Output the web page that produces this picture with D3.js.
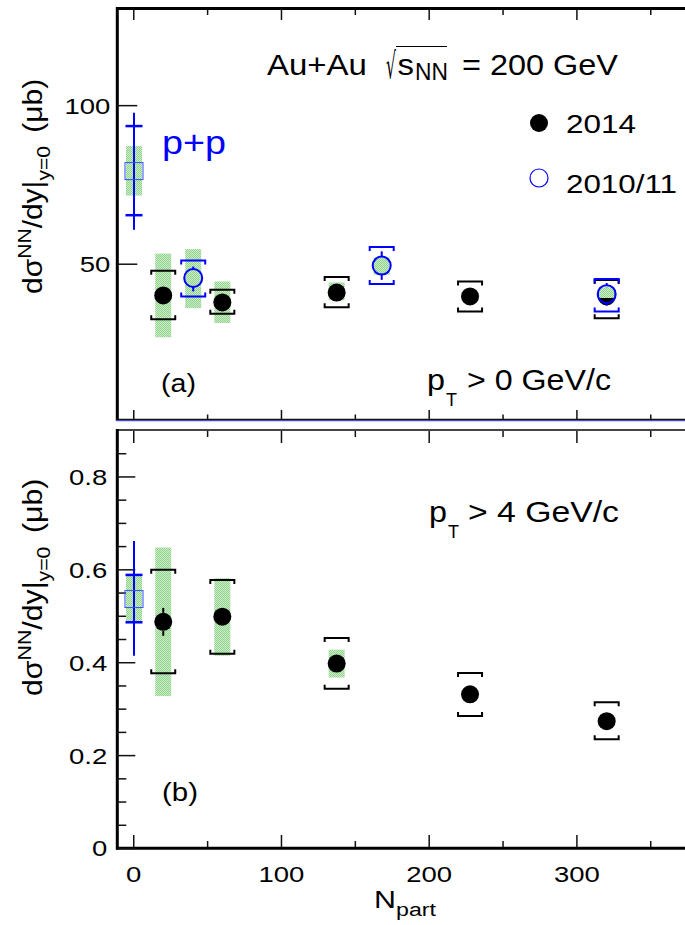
<!DOCTYPE html>
<html><head><meta charset="utf-8">
<script src="https://cdn.jsdelivr.net/npm/d3@7"></script>
<style>body{margin:0;background:#fff}text{font-family:"Liberation Sans",Arial,Helvetica,sans-serif}</style>
</head><body><svg id="c" width="685" height="925"></svg>
<script>
// ---------------- data ----------------
const npart2014 = [20.3, 60.3, 137.7, 228, 320.5];
const npart2010 = [40.6, 168.2, 320.5];
const npartPP = [0.5];

// panel (a): pT > 0 GeV/c  (μb)
const a2014Val  = [40.0, 37.8, 40.9, 39.7, 39.7];
const a2014Stat = [[39.1,40.9],[36.9,38.7],[40.0,41.8],[38.9,40.5],[38.9,40.5]];
const a2014Sys  = [[32.5,47.8],[34.2,41.8],[36.3,45.8],[34.9,44.4],[32.8,44.9]];
const a2014Box  = [[26.8,53.2],[31.3,44.4],[38.5,44.1],null,null];

const a2010Val  = [45.5, 49.4, 40.4];
const a2010Stat = [[41.3,49.1],[44.9,53.9],[36.8,43.9]];
const a2010Sys  = [[39.7,51.0],[43.6,55.3],[34.9,45.2]];
const a2010Box  = [[36.0,54.6],[46.5,52.0],[39.2,42.5]];

const aPPVal  = [79.2];
const aPPStat = [[60.7,97.6]];
const aPPSys  = [[65.3,93.4]];
const aPPBox  = [[71.5,87.1]];

// panel (b): pT > 4 GeV/c  (μb)
const b2014Val  = [0.487, 0.498, 0.397, 0.331, 0.273];
const b2014Stat = [[0.457,0.517],[0.484,0.512],[0.386,0.408],[0.321,0.341],[0.264,0.282]];
const b2014Sys  = [[0.376,0.599],[0.418,0.577],[0.343,0.452],[0.284,0.377],[0.234,0.314]];
const b2014Box  = [[0.327,0.647],[0.414,0.581],[0.367,0.427],null,null];

const bPPVal  = [0.536];
const bPPStat = [[0.414,0.661]];
const bPPSys  = [[0.486,0.588]];
const bPPBox  = [[0.486,0.588]];

// axes / ticks
const xDomain = [-10.8, 376.9];
const xMajor = [0, 100, 200, 300];
const xMinor = [50, 150, 250, 350];
const yTopDomain = [0.5, 130];
const yTopMajor = [50, 100];
const yBotDomain = [0, 0.9];
const yBotMajor = [0, 0.2, 0.4, 0.6, 0.8];
const yBotMinor = [0.05,0.1,0.15,0.25,0.3,0.35,0.45,0.5,0.55,0.65,0.7,0.75,0.85];

// ---------------- drawing ----------------
const svg = d3.select("#c");
const BLUE = "#0000ff";
const defs = svg.append("defs");
const pat = defs.append("pattern").attr("id","green").attr("width",2).attr("height",2).attr("patternUnits","userSpaceOnUse");
pat.append("rect").attr("width",2).attr("height",2).attr("fill","#cdeec9");
pat.append("rect").attr("width",1).attr("height",1).attr("fill","#8fd28b");
pat.append("rect").attr("x",1).attr("y",1).attr("width",1).attr("height",1).attr("fill","#8fd28b");

const x = d3.scaleLinear().domain(xDomain).range([117.3, 690]);
const yTop = d3.scaleLinear().domain(yTopDomain).range([420.7, 10]);
const yBot = d3.scaleLinear().domain(yBotDomain).range([848, 430]);

const TICK_SX = 1.25, TICK_FS = 22;
function styleTicks(g){
  g.select(".domain").remove();
  g.selectAll(".tick line").attr("stroke","#111").attr("stroke-width",1.5);
}
function axisX(yPos, size, labels){
  const gM = svg.append("g").attr("transform",`translate(0,${yPos})`)
    .call(d3.axisBottom(x).tickValues(xMajor).tickSize(size).tickFormat(labels ? d3.format("d") : ""));
  styleTicks(gM);
  if (labels){
    gM.selectAll(".tick text").attr("font-size",TICK_FS).attr("fill","#000").attr("font-family",null)
      .attr("y",0).attr("dy",0).attr("transform",`translate(0,35) scale(${TICK_SX},1)`);
  }
  const gm = svg.append("g").attr("transform",`translate(0,${yPos})`)
    .call(d3.axisBottom(x).tickValues(xMinor).tickSize(size/2).tickFormat(""));
  styleTicks(gm);
}
function axisY(scale, major, minor, size, pad){
  const g = svg.append("g").attr("transform","translate(117.3,0)")
    .call(d3.axisLeft(scale).tickValues(major).tickSize(-size).tickFormat(d3.format("~g")));
  styleTicks(g);
  g.selectAll(".tick text").attr("font-size",TICK_FS).attr("fill","#000").attr("font-family",null)
    .attr("x",0).attr("dy","0.36em").attr("transform",`translate(${-pad},0) scale(${TICK_SX},1)`);
  if (minor){
    const gm = svg.append("g").attr("transform","translate(117.3,0)")
      .call(d3.axisLeft(scale).tickValues(minor).tickSize(-size/2).tickFormat(""));
    styleTicks(gm);
  }
}

// frames
function line(x1,y1,x2,y2,c,w){ svg.append("line").attr("x1",x1).attr("y1",y1).attr("x2",x2).attr("y2",y2).attr("stroke",c).attr("stroke-width",w); }
// top panel
line(117.3, 8.5, 690, 8.5, "#000", 3);
line(117.3, 7, 117.3, 420.7, "#000", 3);
line(116, 419.3, 690, 419.3, "#111", 1.2);
line(116, 420.6, 690, 420.6, "#4a4ad0", 1.2);
// bottom panel
line(116, 430, 690, 430, "#444", 2.2);
line(117.3, 429, 117.3, 849.5, "#000", 3);
line(116, 848.3, 690, 848.3, "#000", 3);

axisX(10, 10, false);
axisX(419, -9, false);
axisX(431, 12, false);
axisX(847, -12, true);
axisY(yTop, yTopMajor, null, 20, 7);
axisY(yBot, yBotMajor, yBotMinor, 18, 10);

// ---- series helpers ----
const R = 9, BW = 8, BR = 12, BT = 4;
function boxes(y, xs, box){
  svg.append("g").selectAll("rect").data(xs.map((n,i)=>({n,b:box[i]})).filter(d=>d.b)).join("rect")
    .attr("x",d=>x(d.n)-BW).attr("width",2*BW)
    .attr("y",d=>y(d.b[1])).attr("height",d=>y(d.b[0])-y(d.b[1]))
    .attr("fill","url(#green)");
}
function brackets(y, xs, sys, color){
  const g = svg.append("g").attr("fill","none").attr("stroke",color).attr("stroke-width",2);
  g.selectAll("path").data(xs.map((n,i)=>({n,s:sys[i]}))).join("path")
    .attr("d",d=>{
      const cx=x(d.n), t=y(d.s[1]), b=y(d.s[0]);
      return `M${cx-BR},${t+BT}V${t}H${cx+BR}V${t+BT}M${cx-BR},${b-BT}V${b}H${cx+BR}V${b-BT}`;
    });
}
function statBars(y, xs, vals, stat, color){
  const g = svg.append("g").attr("stroke",color).attr("stroke-width",2);
  xs.forEach((n,i)=>{
    const cx=x(n), cy=y(vals[i]), t=y(stat[i][1]), b=y(stat[i][0]);
    if (t < cy-R) g.append("line").attr("x1",cx).attr("x2",cx).attr("y1",t).attr("y2",cy-R);
    if (b > cy+R) g.append("line").attr("x1",cx).attr("x2",cx).attr("y1",cy+R).attr("y2",b);
  });
}
function circles(y, xs, vals, filled){
  svg.append("g").selectAll("circle").data(xs.map((n,i)=>({n,v:vals[i]}))).join("circle")
    .attr("cx",d=>x(d.n)).attr("cy",d=>y(d.v)).attr("r",R)
    .attr("fill",filled?"#000":"none").attr("stroke",filled?"none":BLUE).attr("stroke-width",2);
}
function pp(y, xs, vals, stat, sys, box){
  boxes(y, xs, box);
  const g = svg.append("g").attr("stroke",BLUE);
  xs.forEach((n,i)=>{
    const cx=x(n);
    g.append("line").attr("x1",cx).attr("x2",cx).attr("y1",y(stat[i][1])).attr("y2",y(stat[i][0])).attr("stroke-width",2);
    sys[i].forEach(s=>g.append("line").attr("x1",cx-8.5).attr("x2",cx+8.5).attr("y1",y(s)).attr("y2",y(s)).attr("stroke-width",2.5));
    g.append("rect").attr("x",cx-9).attr("y",y(vals[i])-8.5).attr("width",18).attr("height",17)
      .attr("fill","none").attr("stroke","#3050ff").attr("stroke-width",1);
  });
}

// panel (a)
pp(yTop, npartPP, aPPVal, aPPStat, aPPSys, aPPBox);
boxes(yTop, npart2014, a2014Box);
brackets(yTop, npart2014, a2014Sys, "#000");
circles(yTop, npart2014, a2014Val, true);
statBars(yTop, npart2014, a2014Val, a2014Stat, "#000");
boxes(yTop, npart2010, a2010Box);
brackets(yTop, npart2010, a2010Sys, BLUE);
circles(yTop, npart2010, a2010Val, false);
statBars(yTop, npart2010, a2010Val, a2010Stat, BLUE);

// panel (b)
pp(yBot, npartPP, bPPVal, bPPStat, bPPSys, bPPBox);
boxes(yBot, npart2014, b2014Box);
brackets(yBot, npart2014, b2014Sys, "#000");
circles(yBot, npart2014, b2014Val, true);
statBars(yBot, npart2014, b2014Val, b2014Stat, "#000");

// ---------------- texts ----------------
function fitText(str, xx, yy, size, width, color, anchor, font){
  const g = svg.append("g");
  const t = g.append("text").attr("font-size",size).attr("fill",color||"#000").attr("text-anchor",anchor||"start").text(str);
  if (font) t.style("font-family", font);
  const w = t.node().getComputedTextLength();
  g.attr("transform",`translate(${xx},${yy}) scale(${width/w},1)`);
  return g;
}
// title
fitText("Au+Au", 267, 75, 29, 100);
fitText("√", 386, 78, 36, 10, "#000", "start", "DejaVu Sans");
line(396, 46.5, 447, 46.5, "#000", 1.2);
fitText("s", 397.5, 75, 29, 16.5);
fitText("NN", 415, 79.5, 23, 33);
fitText("= 200 GeV", 462, 75, 29, 156);
// legend
svg.append("circle").attr("cx",539).attr("cy",123).attr("r",R).attr("fill","#000");
fitText("2014", 566, 133, 25, 70);
svg.append("circle").attr("cx",539).attr("cy",178).attr("r",R).attr("fill","none").attr("stroke",BLUE).attr("stroke-width",1.2);
fitText("2010/11", 566, 193, 25, 111);
// labels
fitText("p+p", 162, 154, 33, 64, BLUE);
fitText("(a)", 161, 392, 26, 35);
fitText("(b)", 162, 801, 26, 36);
fitText("p", 427, 390, 29, 18);
fitText("T", 446, 406, 18, 11);
fitText("> 0 GeV/c", 467, 390, 29, 144);
fitText("p", 429, 522, 29, 18);
fitText("T", 448, 538, 18, 11);
fitText("> 4 GeV/c", 468, 522, 29, 151);
// x title
fitText("N", 374, 908, 23, 22);
fitText("part", 396, 916, 18, 40);
// y titles
function yTitle(cx, ystart, len){
  const g = svg.append("g");
  const t = g.append("text").attr("font-size",27);
  t.append("tspan").text("dσ");
  t.append("tspan").attr("font-size",19).attr("dy",-11).text("NN");
  t.append("tspan").attr("dy",11).text("/dy|");
  t.append("tspan").attr("font-size",19).attr("dy",8).text("y=0");
  t.append("tspan").attr("dy",-8).attr("dx",12).text("(μb)");
  const w = t.node().getComputedTextLength();
  g.attr("transform",`translate(${cx},${ystart}) rotate(-90) scale(${len/w},1)`);
}
yTitle(42, 294, 202);
yTitle(42, 696, 204);
</script></body></html>
